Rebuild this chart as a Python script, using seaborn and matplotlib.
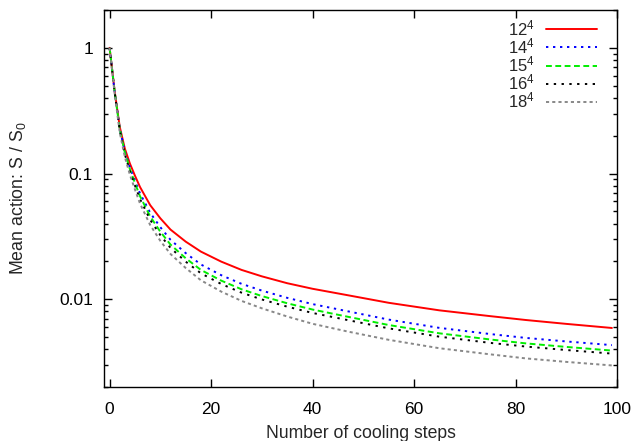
import numpy as np
import pandas as pd
import seaborn as sns
import matplotlib
matplotlib.use("Agg")
import matplotlib.pyplot as plt
from matplotlib.ticker import LogLocator, NullFormatter, FixedLocator, FixedFormatter

steps = [0, 1, 2, 3, 4, 5, 6, 8, 10, 12, 15, 18, 22, 26, 30, 35, 40, 47, 55, 65, 75, 82, 90, 99]

s12 = [1.0, 0.45, 0.235, 0.158, 0.12, 0.096, 0.078, 0.056, 0.044, 0.0358, 0.0287, 0.0239, 0.0199, 0.0171,
       0.0152, 0.0134, 0.0121, 0.01074, 0.00936, 0.00815, 0.00733, 0.00683, 0.00636, 0.0059]
s14 = [1.0, 0.446, 0.228, 0.150, 0.1116, 0.0874, 0.0694, 0.0487, 0.0374, 0.0297, 0.02325, 0.01888, 0.01552,
       0.01325, 0.0117, 0.01025, 0.00914, 0.0080, 0.00688, 0.00591, 0.00528, 0.00492, 0.00461, 0.00431]
s15 = [1.0, 0.444, 0.2257, 0.147, 0.1083, 0.0839, 0.0659, 0.0455, 0.0344, 0.0272, 0.02116, 0.01709, 0.01405,
       0.01199, 0.01059, 0.00928, 0.00827, 0.00724, 0.00623, 0.00535, 0.00478, 0.00445, 0.00417, 0.0039]
s16 = [1.0, 0.44, 0.2212, 0.1426, 0.104, 0.0801, 0.0626, 0.0428, 0.0323, 0.0256, 0.01989, 0.01606, 0.01321,
       0.01127, 0.00995, 0.00872, 0.00777, 0.00681, 0.00586, 0.00503, 0.00449, 0.0042, 0.00394, 0.00369]
s18 = [1.0, 0.431, 0.2124, 0.1355, 0.0978, 0.0745, 0.0576, 0.0389, 0.0291, 0.0229, 0.0177, 0.01413, 0.01149,
       0.00969, 0.00846, 0.00728, 0.00637, 0.00552, 0.00475, 0.00407, 0.00364, 0.00338, 0.00317, 0.00297]

labels = ["12$^4$", "14$^4$", "15$^4$", "16$^4$", "18$^4$"]
series = [s12, s14, s15, s16, s18]
colors = ["#ff0000", "#0000ff", "#00ee00", "#000000", "#888888"]
dashes = [None, (1.2, 2.4), (3.0, 1.8), (1.2, 2.8), (1.6, 1.6)]

sns.set_style("ticks")
plt.rcParams['font.family'] = ['Liberation Sans', 'DejaVu Sans']
plt.rcParams['mathtext.fontset'] = 'custom'
plt.rcParams['mathtext.rm'] = 'Liberation Sans'
plt.rcParams['mathtext.it'] = 'Liberation Sans'

fig = plt.figure(figsize=(6.37, 4.41), dpi=100)
ax = fig.add_axes([0.1633, 0.1224, 0.8053, 0.8549])

for lab, vals, c, d in zip(labels, series, colors, dashes):
    df = pd.DataFrame({"step": steps, "S": vals})
    sns.lineplot(data=df, x="step", y="S", ax=ax, color=c, linewidth=1.4, label=lab)
    line = ax.get_lines()[-1]
    if d is not None:
        line.set_dashes(d)

ax.set_yscale("log")
ax.set_xlim(-1.1, 100)
ax.set_ylim(0.002, 2)
ax.set_xticks([0, 20, 40, 60, 80, 100])
ax.yaxis.set_major_locator(FixedLocator([0.01, 0.1, 1]))
ax.yaxis.set_major_formatter(FixedFormatter(["0.01", "0.1", "1"]))
ax.yaxis.set_minor_locator(LogLocator(base=10, subs=np.arange(2, 10), numticks=20))
ax.yaxis.set_minor_formatter(NullFormatter())

ax.tick_params(which="both", direction="in", top=True, right=True, labelsize=12.5, colors="black")
ax.tick_params(which="major", length=6, width=1)
ax.tick_params(which="minor", length=3.2, width=1)
ax.tick_params(axis="y", which="major", pad=8)
ax.tick_params(axis="x", which="major", pad=10.5)
for sp in ax.spines.values():
    sp.set_linewidth(1)
    sp.set_color("black")

ax.set_xlabel("Number of cooling steps", fontsize=12.7, labelpad=6)
ax.set_ylabel("Mean action: S / S$_0$", fontsize=12.8, labelpad=22)

leg = ax.legend(loc="upper right", bbox_to_anchor=(0.9674, 0.9875), frameon=False, markerfirst=False,
                fontsize=12, handlelength=3.05, labelspacing=-0.1, borderpad=0.2, borderaxespad=0.0,
                handletextpad=0.66)

fig.savefig("out.png", dpi=100)
